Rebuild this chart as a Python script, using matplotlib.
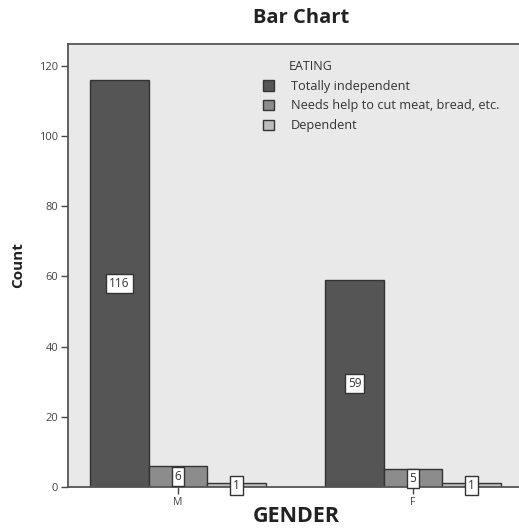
import matplotlib
matplotlib.use("Agg")
import matplotlib.pyplot as plt
from matplotlib.patches import Patch
import numpy as np

genders = ["M", "F"]
categories = ["Totally independent", "Needs help to cut meat, bread, etc.", "Dependent"]
counts = {
    "Totally independent": [116, 59],
    "Needs help to cut meat, bread, etc.": [6, 5],
    "Dependent": [1, 1],
}
yticks = [0, 20, 40, 60, 80, 100, 120]

colors = ["#555555", "#8c8c8c", "#bdbdbd"]
edge = "#333333"

plt.rcParams['font.family'] = ['Open Sans', 'DejaVu Sans']

W, H = 519, 528
fig = plt.figure(figsize=(W / 100, H / 100), dpi=100)
ax = fig.add_axes([68 / W, (H - 487) / H, (W - 68) / W + 0.01, (487 - 44) / H])
ax.set_facecolor("#e9e9ea")

x = np.arange(len(genders))
bw = 0.249
offsets = [-bw, 0, bw]
for i, cat in enumerate(categories):
    vals = counts[cat]
    ax.bar(x + offsets[i], vals, width=bw, color=colors[i], edgecolor=edge, linewidth=1.0, zorder=2)
    for xi, v in zip(x + offsets[i], vals):
        ax.text(xi, v / 2, str(v), ha="center", va="center", fontsize=8.5, color="#333333", zorder=4,
                bbox=dict(boxstyle="square,pad=0.25", fc="white", ec="#333333", lw=1.0))

ax.set_xlim(-0.468, 1.473)
ax.set_ylim(0, 126.2)
ax.set_yticks(yticks)
ax.set_yticklabels([str(t) for t in yticks], fontsize=8, color="#444444")
ax.set_xticks(x)
ax.set_xticklabels(genders, fontsize=7.5, color="#444444")
ax.tick_params(axis="both", direction="out", length=5, width=1.0, color="#444444", pad=2)

for s in ["left", "bottom", "top"]:
    ax.spines[s].set_color("#555555")
    ax.spines[s].set_linewidth(1.3)
ax.spines["right"].set_visible(False)

ax.set_ylabel("Count", fontsize=11, fontweight="bold", color="#222222", labelpad=10)
ax.set_xlabel("GENDER", fontsize=15.5, fontweight="bold", color="#222222", labelpad=-1)
fig.text(301 / W, 1 - 18 / H, "Bar Chart", ha="center", va="center", fontsize=14.5, fontweight="bold", color="#222222")

handles = [Patch(facecolor=c, edgecolor=edge, linewidth=1.0) for c in colors]
leg = ax.legend(handles, categories, title="EATING", loc="upper left",
                bbox_to_anchor=((258 - 68) / (W - 68 + 5), 0.975), frameon=False,
                fontsize=9.2, title_fontsize=9, handlelength=0.85, handleheight=0.85,
                labelspacing=0.52, handletextpad=1.3, borderaxespad=0)
leg._legend_box.align = "left"
for t in leg.get_texts():
    t.set_color("#333333")
leg.get_title().set_color("#333333")
leg.get_title().set_position((26, 0))

fig.savefig("out.png", dpi=100)
